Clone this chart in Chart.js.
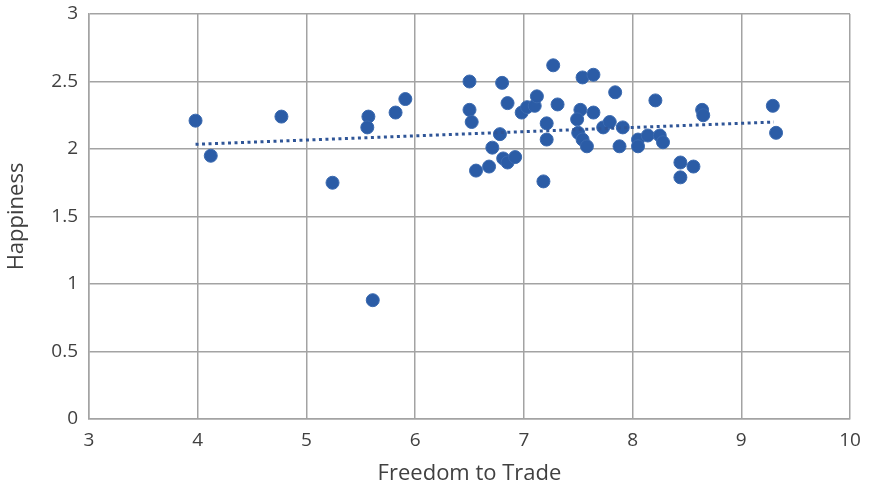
<!DOCTYPE html>
<html>
<head>
<meta charset="utf-8">
<script src="https://cdn.jsdelivr.net/npm/chart.js@4"></script>
<style>
  html, body { margin: 0; padding: 0; background: #ffffff; }
  #wrap { width: 862px; height: 489px; position: relative; }
</style>
</head>
<body>
<div id="wrap"><canvas id="c"></canvas></div>
<script>
// Data
const freedom = [3.98, 4.12, 4.77, 5.24, 5.57, 5.56, 5.82, 5.91, 5.61, 6.50,
  6.50, 6.52, 6.56, 6.68, 6.80, 6.85, 6.71, 6.78, 6.81, 6.85,
  6.92, 6.98, 7.03, 7.10, 7.12, 7.27, 7.31, 7.21, 7.21, 7.18,
  7.54, 7.64, 7.84, 8.21, 7.52, 7.64, 7.49, 7.50, 7.54, 7.58,
  7.73, 7.79, 7.91, 7.88, 8.05, 8.05, 8.14, 8.25, 8.28, 8.44,
  8.56, 8.44, 8.64, 8.65, 9.29, 9.32];
const happiness = [2.21, 1.95, 2.24, 1.75, 2.24, 2.16, 2.27, 2.37, 0.88, 2.50,
  2.29, 2.20, 1.84, 1.87, 2.49, 2.34, 2.01, 2.11, 1.93, 1.90,
  1.94, 2.27, 2.31, 2.32, 2.39, 2.62, 2.33, 2.19, 2.07, 1.76,
  2.53, 2.55, 2.42, 2.36, 2.29, 2.27, 2.22, 2.12, 2.07, 2.02,
  2.16, 2.20, 2.16, 2.02, 2.07, 2.02, 2.10, 2.10, 2.05, 1.90,
  1.87, 1.79, 2.29, 2.25, 2.32, 2.12];
// Trendline endpoints
const trendX = [3.98, 9.30];
const trendY = [2.035, 2.20];
const xTickLabels = ['3', '4', '5', '6', '7', '8', '9', '10'];
const yTickLabels = ['0', '0.5', '1', '1.5', '2', '2.5', '3'];

const points = freedom.map((x, i) => ({ x: x, y: happiness[i] }));
const trend = trendX.map((x, i) => ({ x: x, y: trendY[i] }));

const FONT = '"Open Sans", "Liberation Sans", sans-serif';
const TXT = '#404040';
const GRID = '#a3a3a3';

new Chart(document.getElementById('c'), {
  type: 'scatter',
  data: {
    datasets: [
      {
        label: 'Trend',
        type: 'line',
        data: trend,
        borderColor: '#2F5597',
        borderWidth: 3,
        borderDash: [3, 3.5],
        pointRadius: 0,
        fill: false,
        order: 0
      },
      {
        label: 'Happiness',
        data: points,
        backgroundColor: '#2B5CA6',
        borderColor: '#3A69AF',
        borderWidth: 1,
        pointRadius: 6.5,
        pointHoverRadius: 6.5,
        order: 1
      }
    ]
  },
  options: {
    responsive: true,
    maintainAspectRatio: false,
    animation: false,
    devicePixelRatio: 1,
    layout: { padding: { left: 0, top: 14, right: 12, bottom: 0 } },
    plugins: { legend: { display: false }, tooltip: { enabled: false } },
    scales: {
      x: {
        type: 'linear',
        min: 3, max: 10,
        ticks: {
          stepSize: 1,
          color: TXT,
          padding: 10,
          font: { family: FONT, size: 19 },
          callback: (v, i) => xTickLabels[i]
        },
        grid: { color: GRID, lineWidth: 1.5, drawTicks: false },
        border: { color: GRID, width: 1.5 },
        title: {
          display: true,
          text: 'Freedom to Trade',
          color: TXT,
          font: { family: FONT, size: 22 },
          padding: { top: 6, bottom: 2 }
        },
        afterFit: (s) => { s.height = 70; s.paddingLeft = 0; s.paddingRight = 0; }
      },
      y: {
        type: 'linear',
        min: 0, max: 3,
        ticks: {
          stepSize: 0.5,
          color: TXT,
          padding: 11,
          font: { family: FONT, size: 19 },
          callback: (v, i) => yTickLabels[i]
        },
        grid: { color: GRID, lineWidth: 1.5, drawTicks: false },
        border: { color: GRID, width: 1.5 },
        title: {
          display: true,
          text: 'Happiness',
          color: TXT,
          font: { family: FONT, size: 22 },
          padding: { top: 4, bottom: 6 }
        },
        afterFit: (s) => { s.width = 89; s.paddingTop = 0; s.paddingBottom = 0; }
      }
    }
  }
});
</script>
</body>
</html>
